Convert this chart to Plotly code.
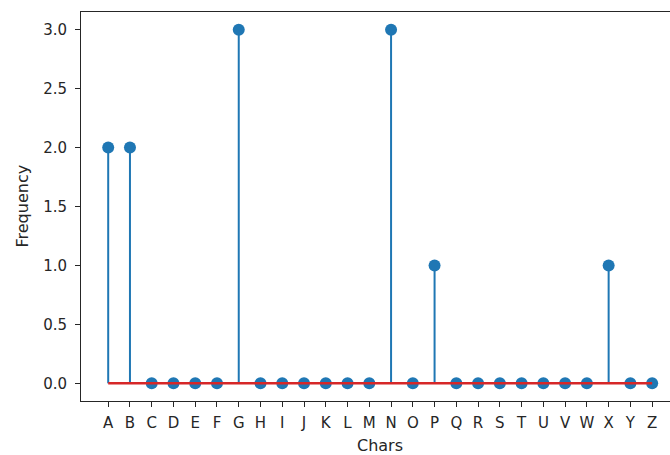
import plotly.graph_objects as go

chars = list("ABCDEFGHIJKLMNOPQRSTUVWXYZ")
freq = [2, 2, 0, 0, 0, 0, 3, 0, 0, 0, 0, 0, 0, 3, 0, 1, 0, 0, 0, 0, 0, 0, 0, 1, 0, 0]
y_ticks = [0.0, 0.5, 1.0, 1.5, 2.0, 2.5, 3.0]

BLUE = "#1f77b4"
RED = "#d62728"
FONT = "DejaVu Sans"
TXT = "#262626"
FS = 15
FT = 16

# stems
sx, sy = [], []
for c, f in zip(chars, freq):
    sx += [c, c, None]
    sy += [0, f, None]

fig = go.Figure()
fig.add_trace(go.Scatter(x=sx, y=sy, mode="lines", line=dict(color=BLUE, width=2),
                         hoverinfo="skip", showlegend=False))
fig.add_trace(go.Scatter(x=chars, y=freq, mode="markers",
                         marker=dict(color=BLUE, size=12), showlegend=False))
fig.add_trace(go.Scatter(x=[chars[0], chars[-1]], y=[0, 0], mode="lines",
                         line=dict(color=RED, width=2.5), hoverinfo="skip", showlegend=False))

W, H = 670, 455
L, R, T, B = 81, 0, 12, 54

fig.update_layout(
    width=W, height=H,
    margin=dict(l=L, r=R, t=T, b=B),
    plot_bgcolor="white", paper_bgcolor="white",
    font=dict(family=FONT, size=FS, color=TXT),
    xaxis=dict(type="category", categoryorder="array", categoryarray=chars,
               range=[-1.25, 25.82], showgrid=False, zeroline=False,
               showline=True, linecolor=TXT, linewidth=1, mirror=True,
               ticks="outside", ticklen=5, tickcolor=TXT, ticklabelstandoff=3,
               tickfont=dict(family=FONT, size=FS, color=TXT)),
    yaxis=dict(range=[-0.15, 3.15], tickvals=y_ticks,
               ticktext=[f"{v:.1f}" for v in y_ticks],
               showgrid=False, zeroline=False,
               showline=True, linecolor=TXT, linewidth=1,
               ticks="outside", ticklen=5, tickcolor=TXT, ticklabelstandoff=5,
               tickfont=dict(family=FONT, size=FS, color=TXT)),
    annotations=[
        dict(text="Chars", xref="paper", yref="paper",
             x=(380 - L) / (W - L - R), y=-(446 - (H - B)) / (H - T - B),
             showarrow=False, xanchor="center", yanchor="middle",
             font=dict(family=FONT, size=FT, color=TXT)),
        dict(text="Frequency", xref="paper", yref="paper",
             x=-(L - 22) / (W - L - R), y=0.5, textangle=-90,
             showarrow=False, xanchor="center", yanchor="middle",
             font=dict(family=FONT, size=FT, color=TXT)),
    ],
)

fig.write_html("out.html", config={"displayModeBar": False},
               post_script="document.body.style.margin='0';document.body.style.overflow='hidden';")
